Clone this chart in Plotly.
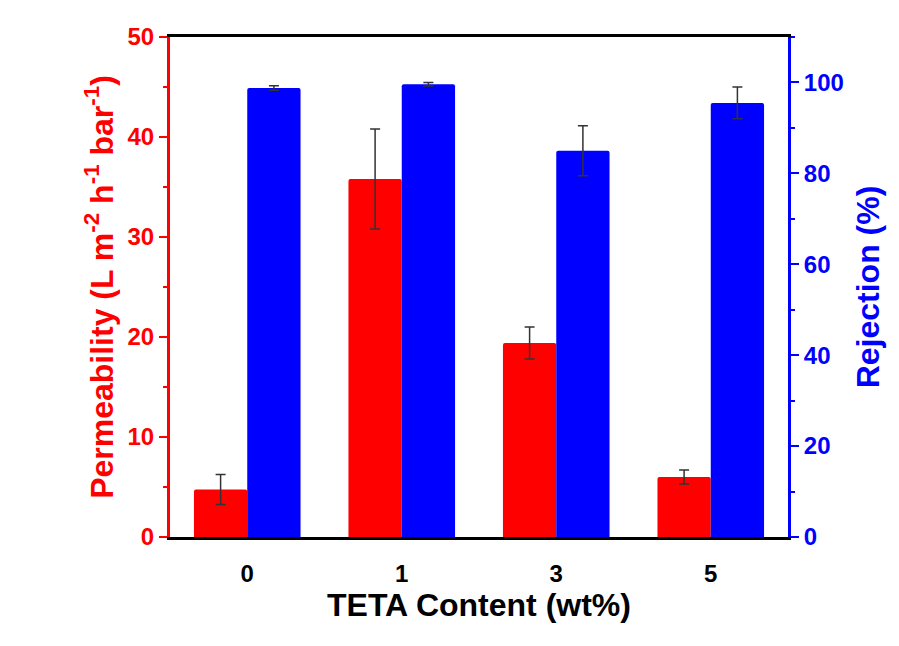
import plotly.graph_objects as go

categories = ["0", "1", "3", "5"]
permeability = [4.75, 35.8, 19.4, 6.0]
permeability_err = [1.5, 5.0, 1.6, 0.7]
rejection = [98.8, 99.6, 85.0, 95.5]
rejection_err = [0.5, 0.4, 5.5, 3.5]

FONT = "Arial, Liberation Sans, sans-serif"

fig = go.Figure()
fig.add_trace(go.Bar(
    x=categories, y=permeability, name="Permeability",
    marker=dict(color="#ff0000", line=dict(width=0), cornerradius=2),
    error_y=dict(type="data", array=permeability_err, color="#333333", thickness=1.5, width=5),
    offsetgroup="1", yaxis="y",
))
fig.add_trace(go.Bar(
    x=categories, y=rejection, name="Rejection",
    marker=dict(color="#0000ff", line=dict(width=0), cornerradius=2),
    error_y=dict(type="data", array=rejection_err, color="#333333", thickness=1.5, width=5),
    offsetgroup="2", yaxis="y2",
))

fig.update_layout(
    width=899, height=646,
    margin=dict(l=170, r=111, t=37, b=109),
    paper_bgcolor="white", plot_bgcolor="white",
    barmode="group", bargap=0.31, bargroupgap=0,
    showlegend=False,
    font=dict(family=FONT, weight="bold"),
    xaxis=dict(
        type="category", range=[-0.5, 3.5],
        showline=True, linecolor="black", linewidth=3, mirror=True,
        ticks="", showgrid=False, zeroline=False,
        tickfont=dict(size=24, color="black", family=FONT, weight="bold"),
        ticklabelstandoff=13,
        title=dict(text="TETA Content (wt%)", font=dict(size=32, color="black", family=FONT, weight="bold"), standoff=8),
    ),
    yaxis=dict(
        range=[0, 50], dtick=10, tick0=0,
        showline=True, linecolor="#ff0000", linewidth=3,
        ticks="outside", ticklen=8, tickwidth=2, tickcolor="#ff0000",
        minor=dict(dtick=5, ticks="outside", ticklen=4, tickwidth=2, tickcolor="#ff0000", showgrid=False),
        showgrid=False, zeroline=False,
        tickfont=dict(size=24, color="#ff0000", family=FONT, weight="bold"),
        title=dict(text="Permeability (L m<sup>-2</sup> h<sup>-1</sup> bar<sup>-1</sup>)",
                   font=dict(size=32, color="#ff0000", family=FONT, weight="bold"), standoff=5),
    ),
    yaxis2=dict(
        overlaying="y", side="right", anchor="x",
        range=[0, 110], dtick=20, tick0=0,
        showline=True, linecolor="#0000ff", linewidth=3,
        ticks="outside", ticklen=8, tickwidth=2, tickcolor="#0000ff",
        minor=dict(dtick=10, ticks="outside", ticklen=4, tickwidth=2, tickcolor="#0000ff", showgrid=False),
        showgrid=False, zeroline=False,
        tickfont=dict(size=24, color="#0000ff", family=FONT, weight="bold"),
        title=dict(text="Rejection (%)", font=dict(size=32, color="#0000ff", family=FONT, weight="bold"), standoff=14),
    ),
)

fig.write_html("out.html")
